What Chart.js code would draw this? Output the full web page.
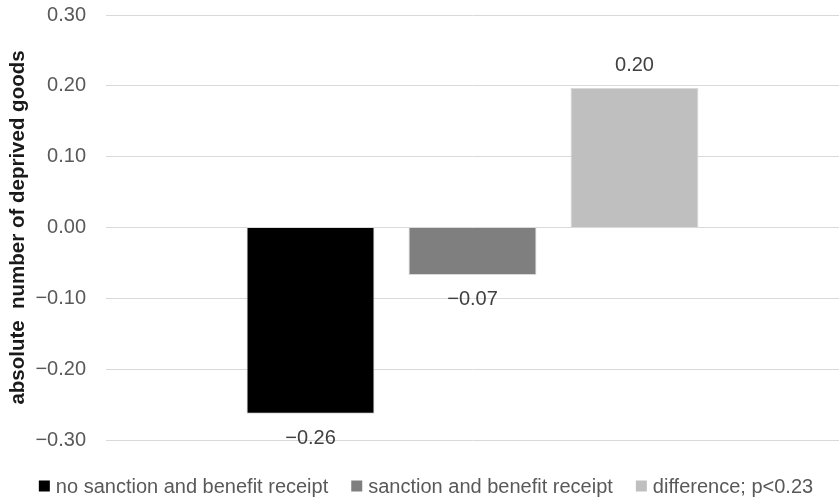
<!DOCTYPE html>
<html>
<head>
<meta charset="utf-8">
<script src="https://cdn.jsdelivr.net/npm/chart.js@4.4.1/dist/chart.umd.min.js"></script>
<style>
  html, body { margin: 0; padding: 0; background: #ffffff; }
  #wrap { width: 839px; height: 500px; position: relative; }
</style>
</head>
<body>
<div id="wrap"><canvas id="chart"></canvas></div>
<script>
// Change in the absolute number of deprived goods
const categories = [''];
const seriesNames = [
  'no sanction and benefit receipt',
  'sanction and benefit receipt',
  'difference; p<0.23'
];
const noSanctionValues = [-0.263];
const sanctionValues = [-0.067];
const differenceValues = [0.197];
const seriesColors = ['#000000', '#7f7f7f', '#bfbfbf'];
const yTickValues = [-0.30, -0.20, -0.10, 0.00, 0.10, 0.20, 0.30];

const FONT = "'Liberation Sans', Arial, sans-serif";

function fmt(v) {
  const s = (Math.abs(v) < 1e-9 ? 0 : v).toFixed(2);
  return s.replace('-', '\u2212');
}

// Value labels above positive bars and below negative ones
const valueLabels = {
  id: 'valueLabels',
  afterDatasetsDraw(chart) {
    const ctx = chart.ctx;
    ctx.save();
    ctx.font = '20px ' + FONT;
    ctx.fillStyle = '#404040';
    ctx.textAlign = 'center';
    ctx.textBaseline = 'middle';
    chart.data.datasets.forEach((ds, i) => {
      const meta = chart.getDatasetMeta(i);
      meta.data.forEach((bar, j) => {
        const v = ds.data[j];
        const y = v >= 0 ? bar.y - 22 : bar.y + 25;
        ctx.fillText(fmt(v), bar.x, y);
      });
    });
    ctx.restore();
  }
};

// Legend row along the bottom edge
const bottomLegend = {
  id: 'bottomLegend',
  afterDraw(chart) {
    const ctx = chart.ctx;
    const box = 11, gapText = 6, gapItem = 23, centerX = 426, centerY = 486;
    ctx.save();
    ctx.font = '20px ' + FONT;
    ctx.textBaseline = 'middle';
    ctx.textAlign = 'left';
    const items = chart.data.datasets.map(ds => ({
      label: ds.label, color: ds.backgroundColor, w: ctx.measureText(ds.label).width
    }));
    let total = 0;
    items.forEach((it, i) => { total += box + gapText + it.w + (i ? gapItem : 0); });
    let x = centerX - total / 2;
    items.forEach(it => {
      ctx.fillStyle = it.color;
      ctx.fillRect(x, centerY - box / 2, box, box);
      ctx.fillStyle = '#595959';
      ctx.fillText(it.label, x + box + gapText, centerY + 1);
      x += box + gapText + it.w + gapItem;
    });
    ctx.restore();
  }
};

const valueSets = [noSanctionValues, sanctionValues, differenceValues];

new Chart(document.getElementById('chart'), {
  type: 'bar',
  data: {
    labels: categories,
    datasets: seriesNames.map((name, i) => ({
      label: name,
      data: valueSets[i],
      backgroundColor: seriesColors[i],
      borderColor: '#d9d9d9',
      borderWidth: 1,
      categoryPercentage: 0.663,
      barPercentage: 0.79
    }))
  },
  options: {
    responsive: true,
    maintainAspectRatio: false,
    animation: false,
    layout: { padding: { top: 15, bottom: 60, left: 2, right: 0 } },
    plugins: {
      legend: { display: false },
      tooltip: { enabled: false }
    },
    scales: {
      x: { display: false },
      y: {
        min: -0.3,
        max: 0.3,
        afterBuildTicks(scale) {
          scale.ticks = yTickValues.map(v => ({ value: v }));
        },
        afterFit(scale) {
          scale.width = 104;
          scale.paddingTop = 0;
          scale.paddingBottom = 0;
        },
        border: { display: false },
        grid: { color: '#d9d9d9', lineWidth: 1, drawTicks: false },
        ticks: {
          padding: 20,
          color: '#595959',
          font: { family: FONT, size: 20 },
          callback: v => fmt(v)
        },
        title: {
          display: true,
          text: 'absolute  number of deprived goods',
          color: '#1a1a1a',
          font: { family: FONT, size: 20.5, weight: 'bold' },
          padding: { top: 4, bottom: 4 }
        }
      }
    }
  },
  plugins: [valueLabels, bottomLegend]
});
</script>
</body>
</html>
